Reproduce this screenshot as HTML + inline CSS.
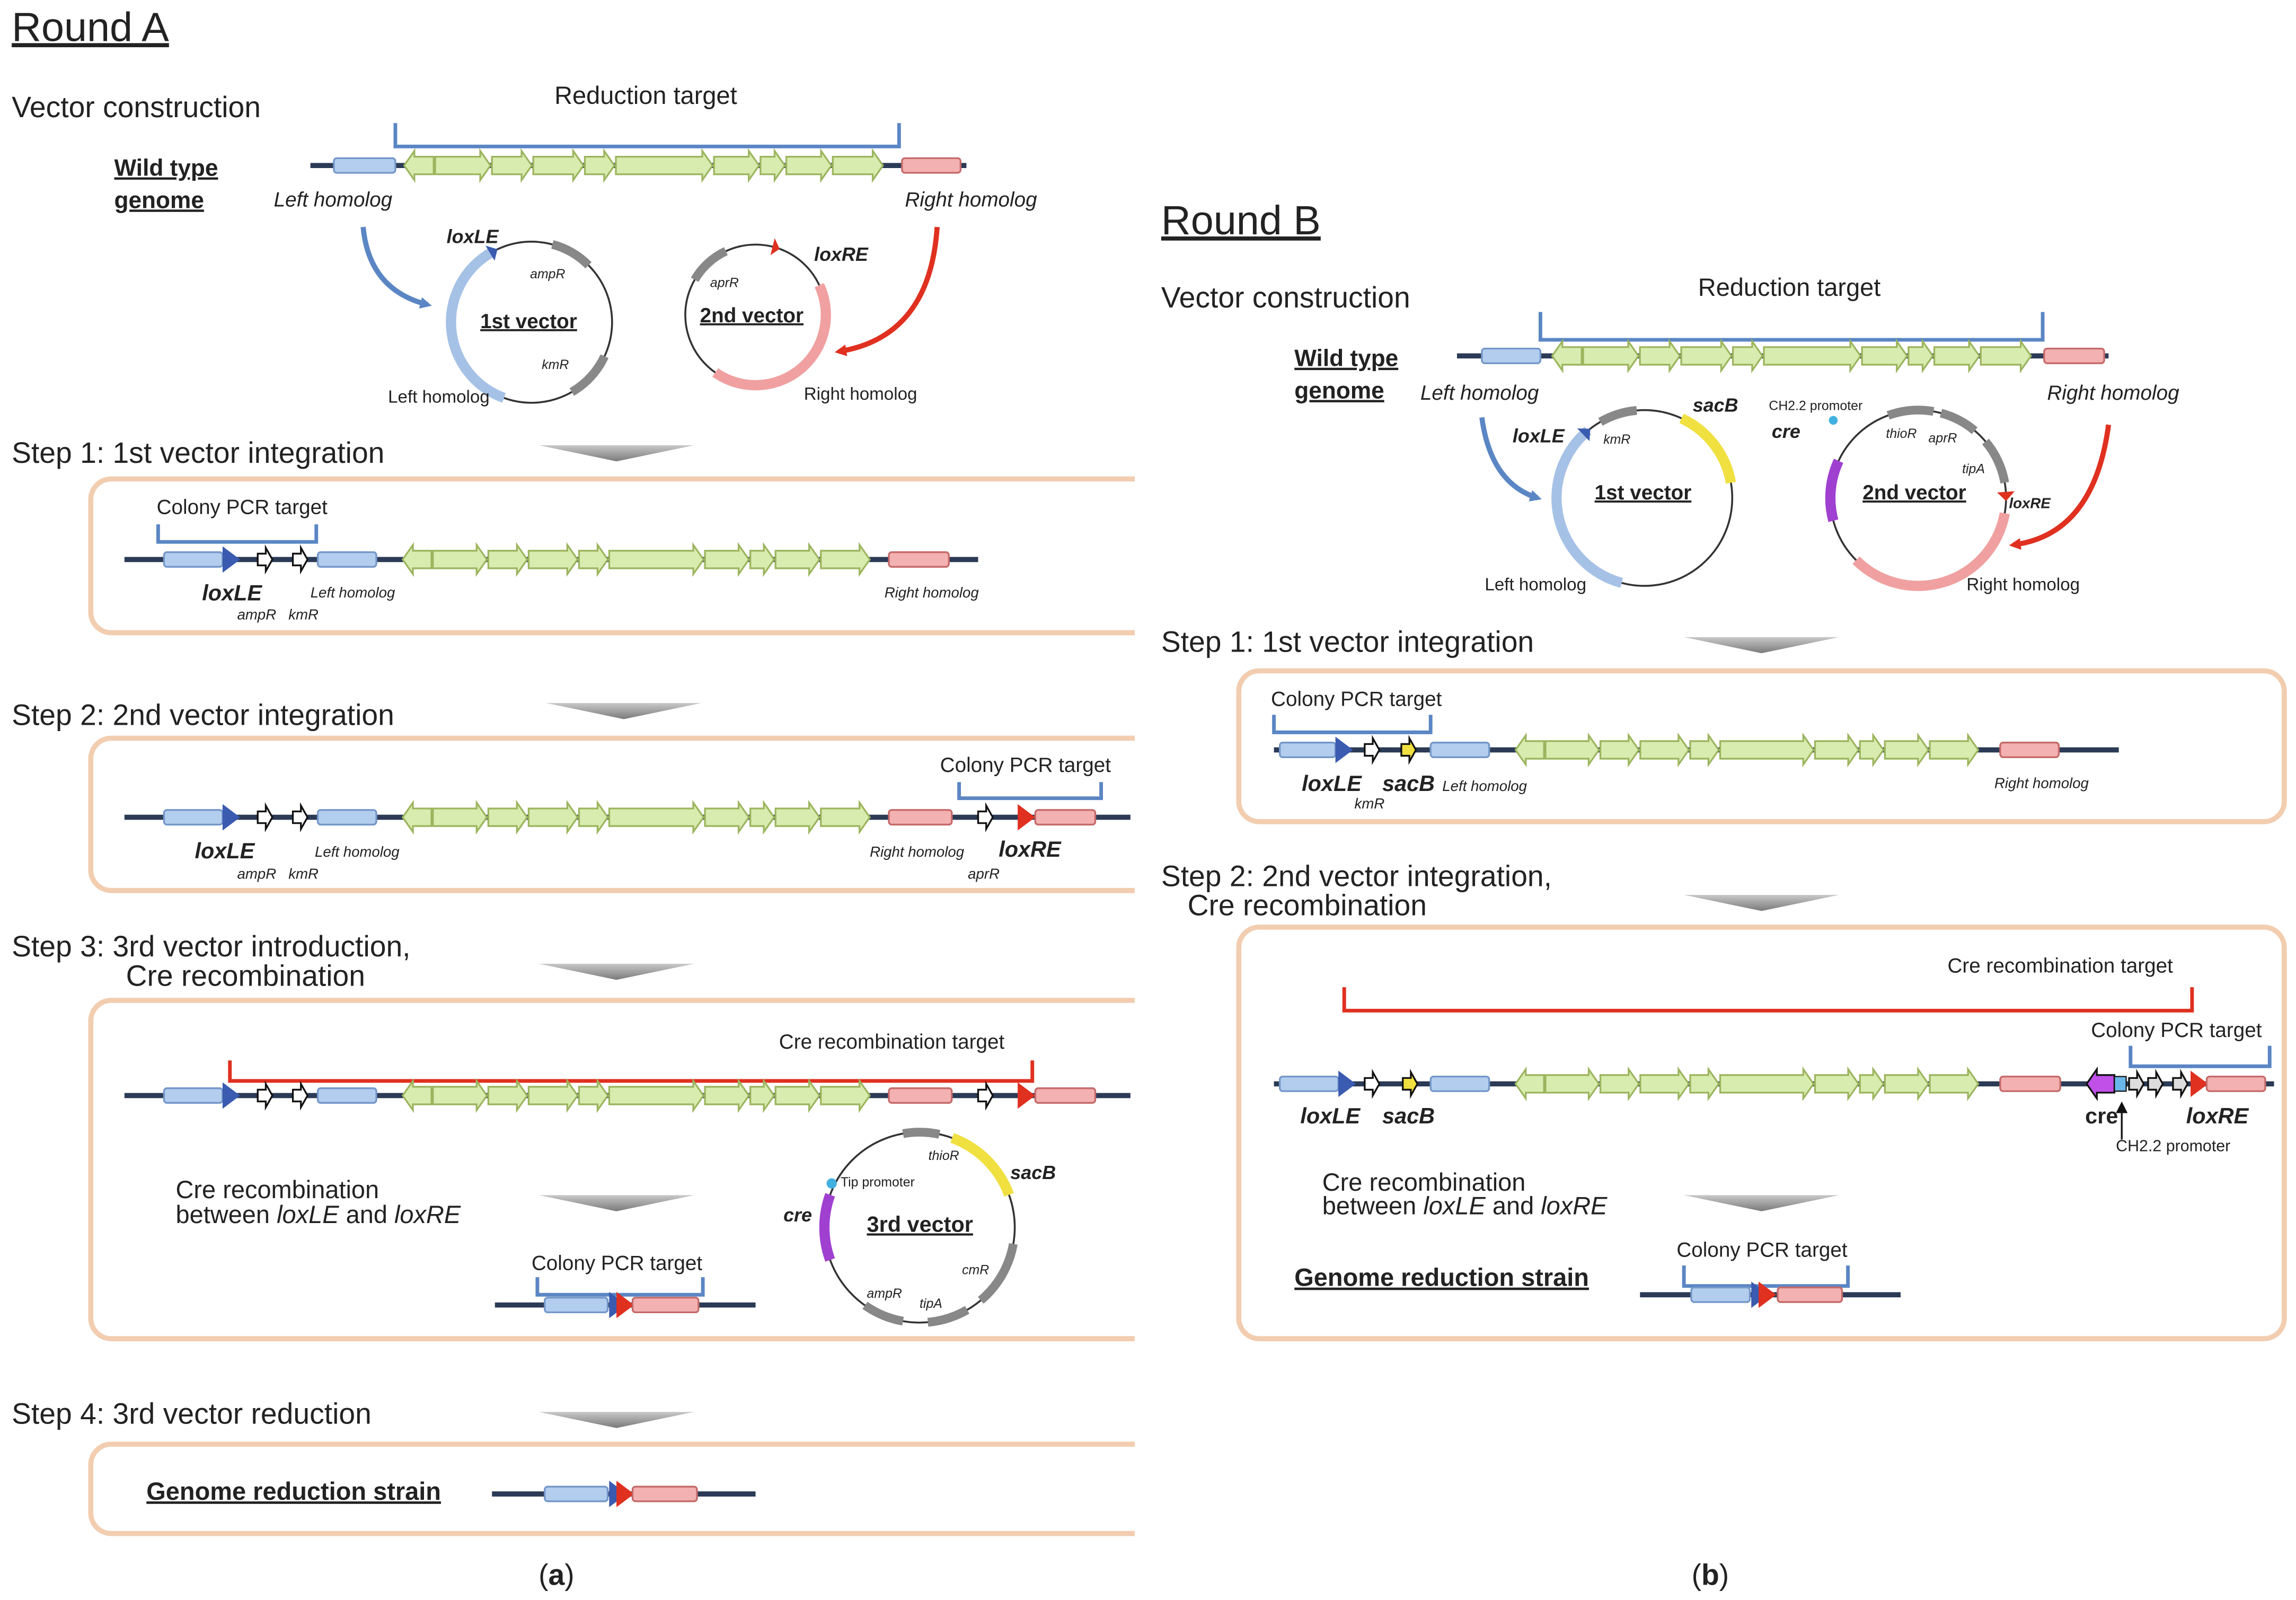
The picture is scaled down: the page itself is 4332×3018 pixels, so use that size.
<!DOCTYPE html>
<html><head><meta charset="utf-8">
<style>
html,body{margin:0;padding:0;background:#fff;}
svg{display:block;}
text{font-family:"Liberation Sans",sans-serif;fill:#222;}
</style></head>
<body>
<svg id="s" width="4332" height="3018" viewBox="0 0 1568 1092.4" preserveAspectRatio="none" xmlns="http://www.w3.org/2000/svg">
<defs>
<linearGradient id="tg" x1="0" y1="0" x2="0" y2="1"><stop offset="0" stop-color="#c8c8c8"/><stop offset="1" stop-color="#7a7a7a"/></linearGradient>
<marker id="mb" markerWidth="8" markerHeight="8" refX="5" refY="4" orient="auto" markerUnits="userSpaceOnUse"><path d="M0,0 L8,4 L0,8 z" fill="#5b86c4"/></marker>
<marker id="mr" markerWidth="8" markerHeight="8" refX="5" refY="4" orient="auto" markerUnits="userSpaceOnUse"><path d="M0,0 L8,4 L0,8 z" fill="#e03020"/></marker>
</defs>
<g id="g"></g>
</svg>
<script>
var o='';
function T(x,y,s,t,ex){o+='<text x="'+x+'" y="'+y+'" font-size="'+s+'" '+(ex||'')+'>'+t+'</text>';}
function line(x1,x2,y){o+='<line x1="'+x1+'" y1="'+y+'" x2="'+x2+'" y2="'+y+'" stroke="#2b3a55" stroke-width="3.5"/>';}
function box(x1,x2,y,c){var f=c=='b'?'#b3cdee':'#f3b1b1',s=c=='b'?'#7497c9':'#c56a6a';o+='<rect x="'+x1+'" y="'+(y-5)+'" width="'+(x2-x1)+'" height="10" rx="2" fill="'+f+'" stroke="'+s+'" stroke-width="1.2"/>';}
function arr(x1,x2,y,h,b,dir,fill,st){var hw=Math.min(h*0.7,(x2-x1)*0.45);var p;
 if(dir>0)p=[[x1,y-b],[x2-hw,y-b],[x2-hw,y-h],[x2,y],[x2-hw,y+h],[x2-hw,y+b],[x1,y+b]];
 else p=[[x2,y-b],[x1+hw,y-b],[x1+hw,y-h],[x1,y],[x1+hw,y+h],[x1+hw,y+b],[x2,y+b]];
 o+='<polygon points="'+p.map(function(q){return q.join(',')}).join(' ')+'" fill="'+fill+'" stroke="'+st+'" stroke-width="1.2"/>';}
function genes(x1,x2,y){var w=[0.06,0.11,0.08,0.1,0.06,0.19,0.09,0.05,0.09,0.1];var s=0;w.forEach(function(v){s+=v});var x=x1;
 w.forEach(function(v,i){var ww=v/s*(x2-x1);arr(x,x+ww-1,y,10,6,i==0?-1:1,'#d8ecb0','#9cb55e');x+=ww;});}
function sm(x,y,f){arr(x-5,x+5,y,8,4,1,f||'#fff','#111');}
function tri(x,y,c){o+='<polygon points="'+x+','+(y-9)+' '+(x+12)+','+y+' '+x+','+(y+9)+'" fill="'+c+'"/>';}
function brk(x1,x2,y1,y2,c){o+='<polyline points="'+x1+','+y2+' '+x1+','+y1+' '+x2+','+y1+' '+x2+','+y2+'" fill="none" stroke="'+c+'" stroke-width="2.5"/>';}
function panel(x1,y1,x2,y2){o+='<rect x="'+x1+'" y="'+y1+'" width="'+(x2-x1)+'" height="'+(y2-y1)+'" rx="14" fill="#fff" stroke="#f2cdb0" stroke-width="3.5"/>';}
function dtri(x,y){o+='<polygon points="'+(x-53)+','+y+' '+(x+53)+','+y+' '+x+','+(y+11)+'" fill="url(#tg)"/>';}
function pt(cx,cy,r,a){a=a*Math.PI/180;return [cx+r*Math.sin(a),cy-r*Math.cos(a)];}
function arc(cx,cy,r,a1,a2,c,w){var p1=pt(cx,cy,r,a1),p2=pt(cx,cy,r,a2);o+='<path d="M'+p1[0]+','+p1[1]+' A'+r+','+r+' 0 '+((a2-a1)>180?1:0)+' 1 '+p2[0]+','+p2[1]+'" fill="none" stroke="'+c+'" stroke-width="'+(w||6)+'"/>';}
function circ(cx,cy,r){o+='<circle cx="'+cx+'" cy="'+cy+'" r="'+r+'" fill="none" stroke="#333" stroke-width="1.3"/>';}
function ctri(cx,cy,r,a,c){var p=pt(cx,cy,r,a),q=pt(cx,cy,r-6,a-6),s=pt(cx,cy,r+6,a-6);o+='<polygon points="'+p+' '+q+' '+s+'" fill="'+c+'"/>';}

// ===== Round A =====
T(8,28,28,'Round A','text-decoration="underline"');
T(8,80,20,'Vector construction');
T(78,120,16,'Wild type','font-weight="bold" text-decoration="underline"');
T(78,142,16,'genome','font-weight="bold" text-decoration="underline"');
brk(270,614,100,84,'#5b86c4');
T(441,71,17,'Reduction  target','text-anchor="middle"');
line(212,660,113);box(228,270,113,'b');genes(276,604,113);box(616,656,113,'r');
T(187,141,14,'Left homolog','font-style="italic"');T(618,141,14,'Right homolog','font-style="italic"');
circ(363,220,55);arc(363,220,55,200,330,'#a6c1e6',7);arc(363,220,55,15,45,'#888',6);arc(363,220,55,115,150,'#888',6);ctri(363,220,55,335,'#3a5bb0');
T(328,224,14,'1st vector','font-weight="bold" text-decoration="underline"');
T(305,166,13,'loxLE','font-weight="bold" font-style="italic"');T(362,190,9,'ampR','font-style="italic"');T(370,252,9,'kmR','font-style="italic"');T(265,275,12,'Left homolog');
circ(516,215,48);arc(516,215,48,65,215,'#f0a0a0',7);arc(516,215,48,300,335,'#888',6);ctri(516,215,48,20,'#e03020');
T(478,220,14,'2nd vector','font-weight="bold" text-decoration="underline"');
T(556,178,13,'loxRE','font-weight="bold" font-style="italic"');T(485,196,9,'aprR','font-style="italic"');T(549,273,12,'Right homolog');
o+='<path d="M248,155 Q252,198 292,208" fill="none" stroke="#5b86c4" stroke-width="3.5" marker-end="url(#mb)"/>';
o+='<path d="M640,155 Q635,230 573,240" fill="none" stroke="#e03020" stroke-width="3.5" marker-end="url(#mr)"/>';
T(8,316,20,'Step 1: 1st vector integration');dtri(421,304);
panel(62,327,790,432);
T(107,351,14,'Colony PCR target');brk(108,216,370,358,'#5b86c4');
line(85,668,382);box(112,152,382,'b');tri(152,382,'#3a5bb0');sm(181,382);sm(205,382);box(217,257,382,'b');genes(275,595,382);box(607,648,382,'r');
T(138,410,15,'loxLE','font-weight="bold" font-style="italic"');T(162,423,10,'ampR','font-style="italic"');T(197,423,10,'kmR','font-style="italic"');T(212,408,10,'Left homolog','font-style="italic"');T(604,408,10,'Right homolog','font-style="italic"');
T(8,495,20,'Step 2: 2nd vector integration');dtri(426,480);
panel(62,504,790,608);
T(642,527,14,'Colony PCR target');brk(655,752,545,534,'#5b86c4');
line(85,772,558);box(112,152,558,'b');tri(152,558,'#3a5bb0');sm(181,558);sm(205,558);box(217,257,558,'b');genes(275,595,558);box(607,650,558,'r');sm(673,558);tri(695,558,'#e03020');box(707,748,558,'r');
T(133,586,15,'loxLE','font-weight="bold" font-style="italic"');T(162,600,10,'ampR','font-style="italic"');T(197,600,10,'kmR','font-style="italic"');T(215,585,10,'Left homolog','font-style="italic"');T(594,585,10,'Right homolog','font-style="italic"');T(682,585,15,'loxRE','font-weight="bold" font-style="italic"');T(661,600,10,'aprR','font-style="italic"');
T(8,653,20,'Step 3: 3rd vector introduction,');T(86,673,20,'Cre recombination');dtri(421,658);
panel(62,683,790,914);
T(532,716,14,'Cre recombination target');brk(157,705,738,724,'#e03020');
line(85,772,748);box(112,152,748,'b');tri(152,748,'#3a5bb0');sm(181,748);sm(205,748);box(217,257,748,'b');genes(275,595,748);box(607,650,748,'r');sm(673,748);tri(695,748,'#e03020');box(707,748,748,'r');
T(120,818,17,'Cre  recombination');T(120,835,17,'between <tspan font-style="italic">loxLE</tspan> and <tspan font-style="italic">loxRE</tspan>');
dtri(421,816);
T(363,867,14,'Colony PCR target');brk(367,480,884,872,'#5b86c4');
line(338,516,891);box(372,415,891,'b');tri(416,891,'#3a5bb0');tri(421,891,'#e03020');box(432,477,891,'r');
circ(628,838,65);arc(628,838,65,20,70,'#f0e040',7);arc(628,838,65,350,12,'#888',6);arc(628,838,65,100,140,'#888',6);arc(628,838,65,150,175,'#888',6);arc(628,838,65,190,215,'#888',6);arc(628,838,65,250,290,'#a040d0',7);
o+='<circle cx="568" cy="808" r="3.5" fill="#40b0e0"/>';
T(592,841,15,'3rd vector','font-weight="bold" text-decoration="underline"');
T(574,810,9,'Tip promoter');T(634,792,9,'thioR','font-style="italic"');T(690,805,13,'sacB','font-weight="bold" font-style="italic"');T(535,834,13,'cre','font-weight="bold" font-style="italic"');T(657,870,9,'cmR','font-style="italic"');T(628,893,9,'tipA','font-style="italic"');T(592,886,9,'ampR','font-style="italic"');
T(8,972,20,'Step 4: 3rd vector reduction');dtri(421,964);
panel(62,986,790,1047);
T(100,1024,17,'Genome reduction strain','font-weight="bold" text-decoration="underline"');
line(336,516,1020);box(372,415,1020,'b');tri(416,1020,'#3a5bb0');tri(421,1020,'#e03020');box(432,476,1020,'r');
o+='<rect x="775" y="300" width="18" height="760" fill="#fff"/>';
T(380,1082,20,'(<tspan font-weight="bold">a</tspan>)','font-family="Liberation Serif" text-anchor="middle"');

// ===== Round B =====
T(793,160,28,'Round B','text-decoration="underline"');
T(793,210,20,'Vector construction');
T(884,250,16,'Wild type','font-weight="bold" text-decoration="underline"');
T(884,272,16,'genome','font-weight="bold" text-decoration="underline"');
brk(1052,1395,232,213,'#5b86c4');
T(1222,202,17,'Reduction  target','text-anchor="middle"');
line(995,1440,243);box(1012,1052,243,'b');genes(1060,1388,243);box(1396,1437,243,'r');
T(970,273,14,'Left homolog','font-style="italic"');T(1398,273,14,'Right homolog','font-style="italic"');
circ(1123,340,60);arc(1123,340,60,195,320,'#a6c1e6',7);arc(1123,340,60,330,355,'#888',6);arc(1123,340,60,25,80,'#f0e040',7);ctri(1123,340,60,322,'#3a5bb0');
T(1089,341,14,'1st vector','font-weight="bold" text-decoration="underline"');
T(1033,302,13,'loxLE','font-weight="bold" font-style="italic"');T(1095,303,9,'kmR','font-style="italic"');T(1156,281,13,'sacB','font-weight="bold" font-style="italic"');T(1014,403,12,'Left homolog');
circ(1310,340,60);arc(1310,340,60,255,295,'#a040d0',7);arc(1310,340,60,340,10,'#888',6);arc(1310,340,60,15,40,'#888',6);arc(1310,340,60,50,80,'#888',6);arc(1310,340,60,100,225,'#f0a0a0',7);ctri(1310,340,60,92,'#e03020');
o+='<circle cx="1252" cy="287" r="3" fill="#40b0e0"/>';
T(1272,341,14,'2nd vector','font-weight="bold" text-decoration="underline"');
T(1208,280,9,'CH2.2 promoter');T(1210,299,13,'cre','font-weight="bold" font-style="italic"');T(1288,299,9,'thioR','font-style="italic"');T(1317,302,9,'aprR','font-style="italic"');T(1340,323,9,'tipA','font-style="italic"');T(1372,347,10,'loxRE','font-weight="bold" font-style="italic"');T(1343,403,12,'Right homolog');
o+='<path d="M1012,285 Q1018,330 1050,340" fill="none" stroke="#5b86c4" stroke-width="3.5" marker-end="url(#mb)"/>';
o+='<path d="M1440,290 Q1430,365 1375,372" fill="none" stroke="#e03020" stroke-width="3.5" marker-end="url(#mr)"/>';
T(793,445,20,'Step 1: 1st vector integration');dtri(1203,435);
panel(846,458,1560,561);
T(868,482,14,'Colony PCR target');brk(870,977,500,488,'#5b86c4');
line(870,1447,512);box(874,912,512,'b');tri(912,512,'#3a5bb0');sm(937,512);sm(962,512,'#f0e040');box(977,1017,512,'b');genes(1035,1352,512);box(1366,1406,512,'r');
T(889,540,15,'loxLE','font-weight="bold" font-style="italic"');T(925,552,10,'kmR','font-style="italic"');T(944,540,15,'sacB','font-weight="bold" font-style="italic"');T(985,540,10,'Left homolog','font-style="italic"');T(1362,538,10,'Right homolog','font-style="italic"');
T(793,605,20,'Step 2: 2nd vector integration,');T(811,625,20,'Cre recombination');dtri(1203,611);
panel(846,633,1560,914);
T(1330,664,14,'Cre recombination target');brk(918,1497,690,674,'#e03020');
T(1428,708,14,'Colony PCR target');brk(1455,1550,728,714,'#5b86c4');
line(870,1553,740);box(874,914,740,'b');tri(914,740,'#3a5bb0');sm(937,740);sm(963,740,'#f0e040');box(977,1017,740,'b');genes(1035,1352,740);box(1366,1407,740,'r');
arr(1425,1444,740,10,6,-1,'#c050e8','#111');o+='<rect x="1444" y="735" width="8" height="10" fill="#6ab8ea" stroke="#111" stroke-width="0.8"/>';
sm(1459,740,'#ddd');sm(1472,740,'#ddd');sm(1489,740,'#ddd');tri(1496,740,'#e03020');box(1507,1547,740,'r');
T(888,767,15,'loxLE','font-weight="bold" font-style="italic"');T(944,767,15,'sacB','font-weight="bold" font-style="italic"');T(1424,767,15,'cre','font-weight="bold"');T(1493,767,15,'loxRE','font-weight="bold" font-style="italic"');
o+='<line x1="1449" y1="778" x2="1449" y2="756" stroke="#111" stroke-width="1.2"/><polygon points="1445,760 1453,760 1449,752" fill="#111"/>';
T(1445,786,11,'CH2.2 promoter');
T(903,813,17,'Cre  recombination');T(903,829,17,'between <tspan font-style="italic">loxLE</tspan> and <tspan font-style="italic">loxRE</tspan>');
dtri(1203,816);
T(884,878,17,'Genome reduction strain','font-weight="bold" text-decoration="underline"');
T(1145,858,14,'Colony PCR target');brk(1150,1262,878,864,'#5b86c4');
line(1120,1298,884);box(1155,1195,884,'b');tri(1196,884,'#3a5bb0');tri(1201,884,'#e03020');box(1214,1258,884,'r');
T(1168,1082,20,'(<tspan font-weight="bold">b</tspan>)','font-family="Liberation Serif" text-anchor="middle"');
document.getElementById('g').innerHTML=o;
</script>
</body></html>
